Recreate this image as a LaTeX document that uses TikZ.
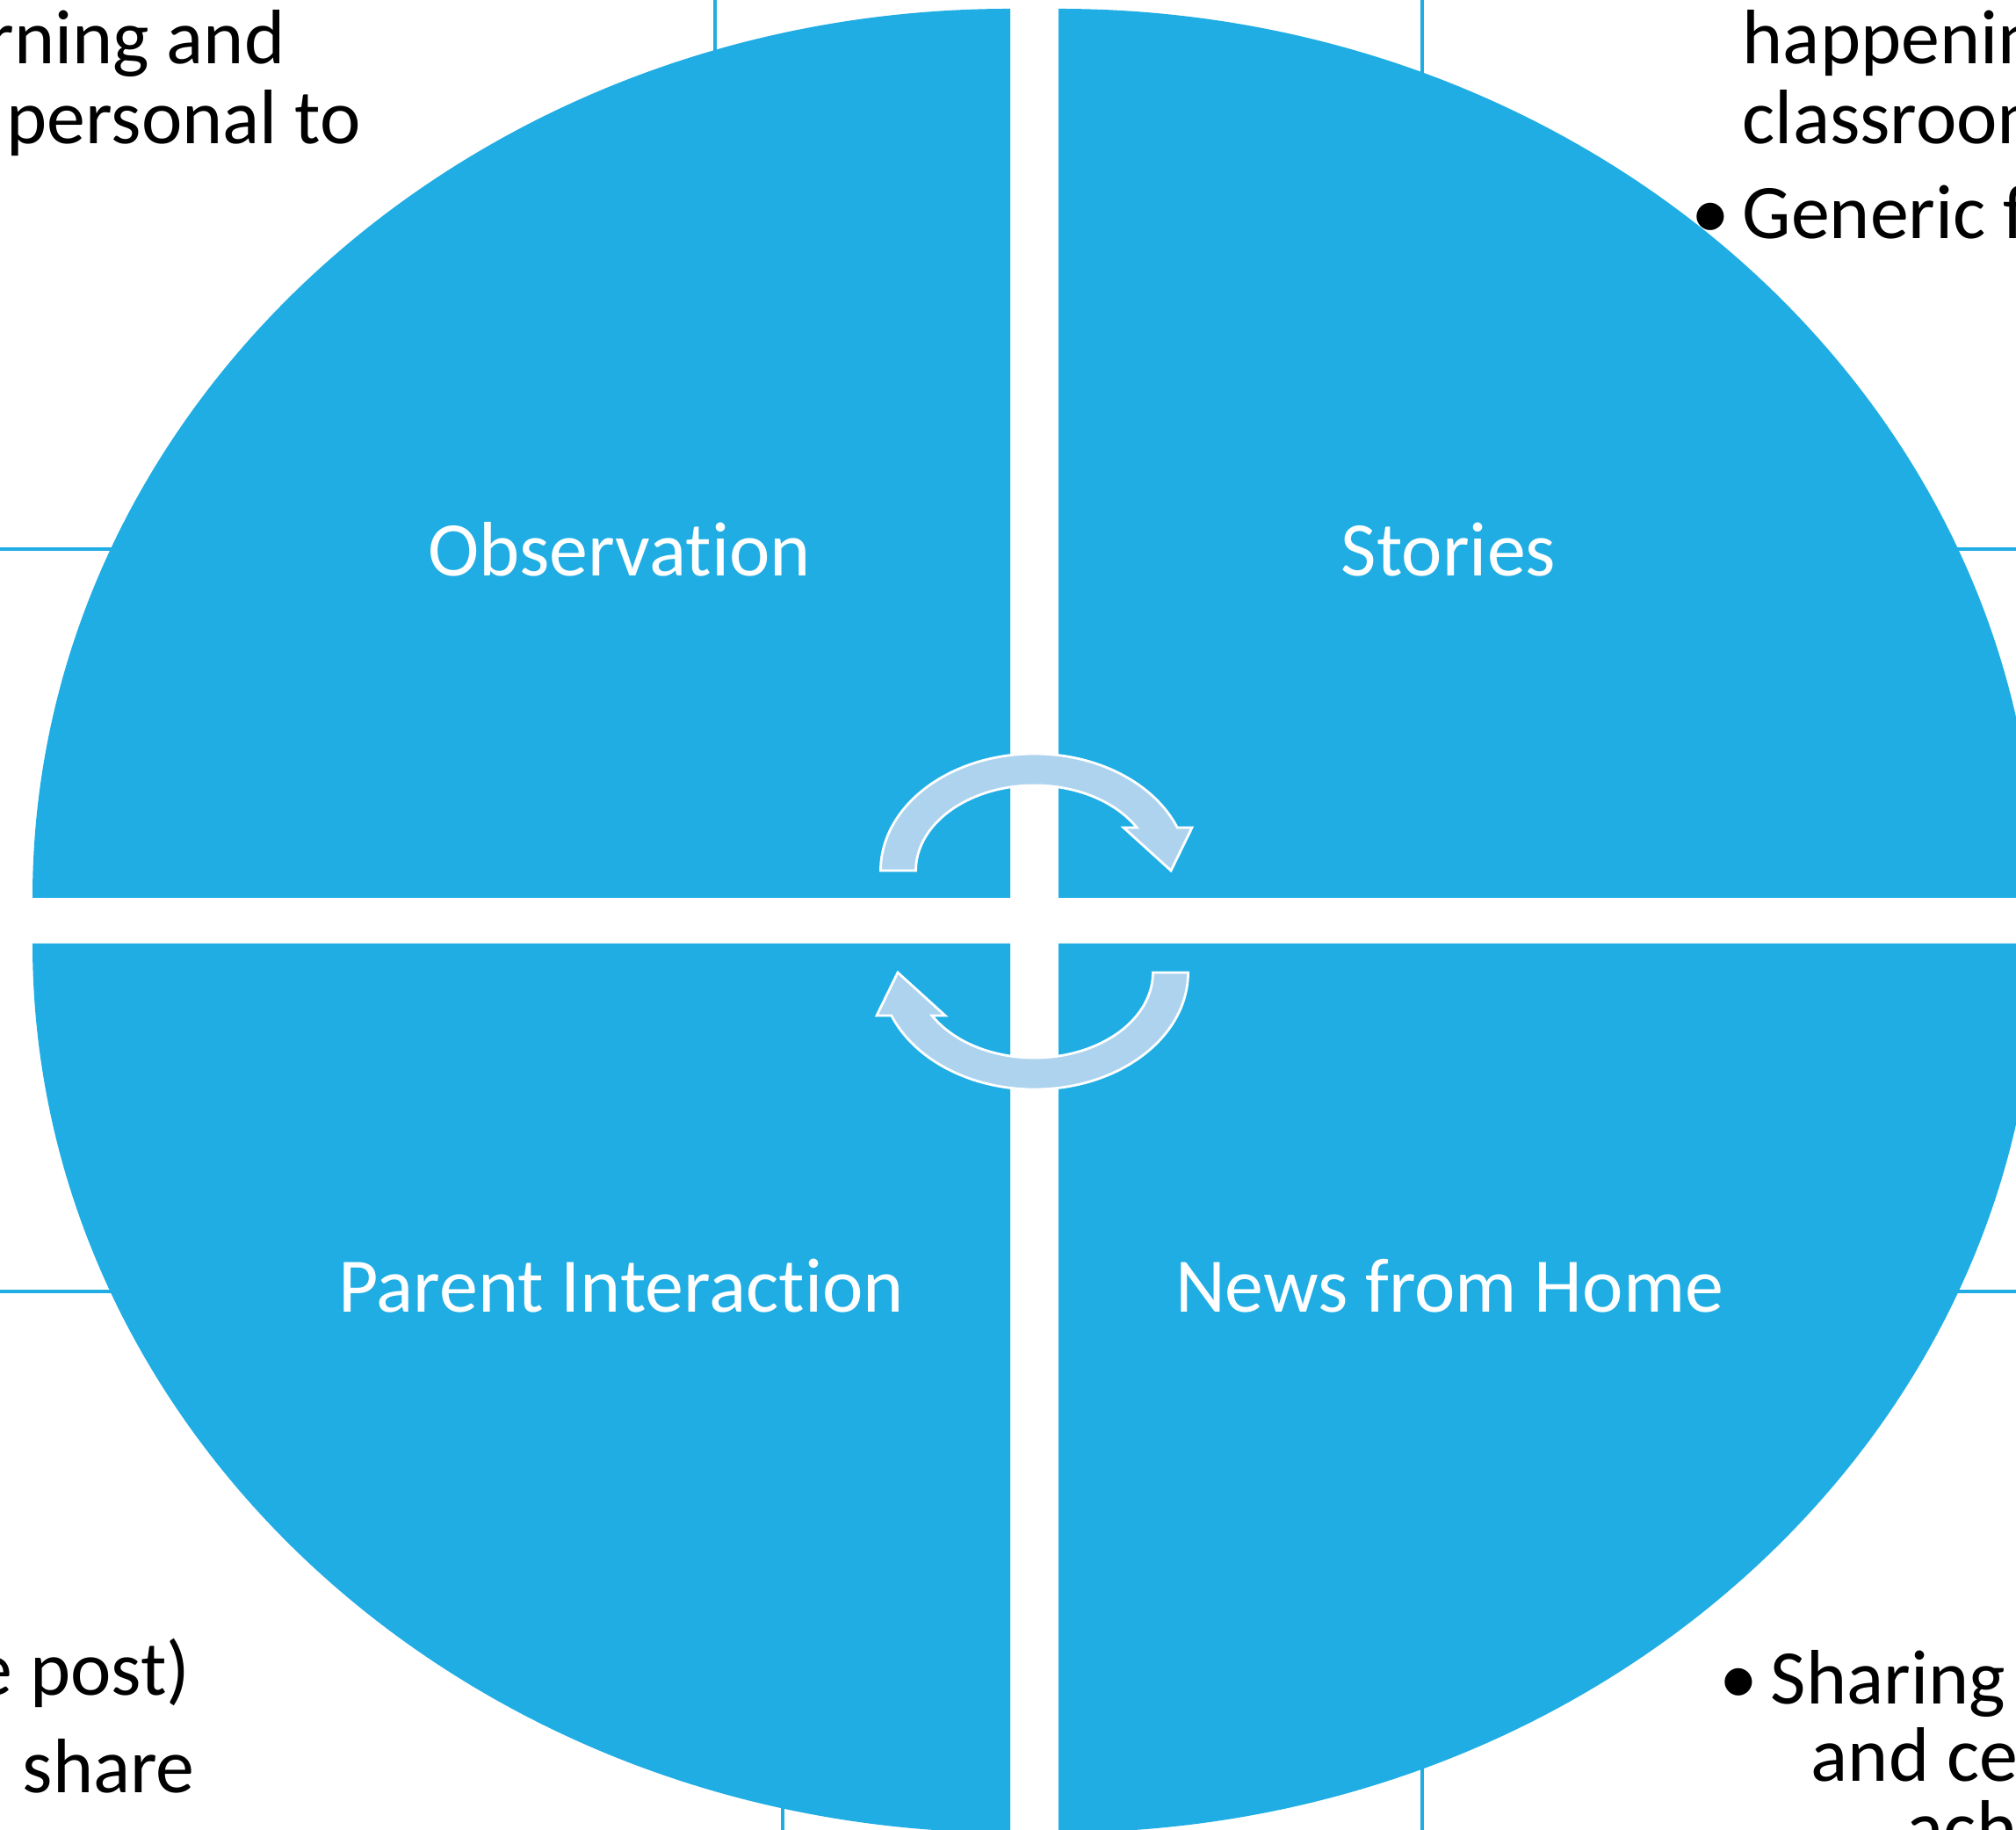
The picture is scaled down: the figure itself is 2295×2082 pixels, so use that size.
\documentclass[tikz,border=0pt]{standalone}
\usepackage{fontspec}
\setmainfont{Carlito}[Ligatures={NoCommon}]
\usetikzlibrary{positioning}
\definecolor{quadblue}{RGB}{31,173,228}
\definecolor{cycleblue}{RGB}{173,211,238}
\tikzset{
  quad/.style={fill=quadblue},
  boxline/.style={draw=quadblue, line width=1pt},
  cyclearrow/.style={fill=cycleblue, draw=white, line width=0.8pt},
  quadlabel/.style={text=white, font=\fontsize{25}{30}\selectfont, anchor=base},
  sidetext/.style={text=black, font=\fontsize{25}{30}\selectfont, inner sep=0pt}
}

\begin{document}
\begin{tikzpicture}[x=0.01cm, y=0.01cm]
            \useasboundingbox (0,0) rectangle (2295,2082);
            % text boxes behind the circle
            \draw[boxline] (-20,1457) rectangle (814,2110);
            \draw[boxline] (1619,1457) rectangle (2320,2110);
            \draw[boxline] (-20,612) rectangle (891,-20);
            \draw[boxline] (1619,612) rectangle (2320,-20);
            % four quarters
            \fill[quad] (1150,1060) -- (37,1060) arc[start angle=180, end angle=90, x radius=1113, y radius=1012] -- cycle;
            \fill[quad] (1205,1060) -- (1205,2072) arc[start angle=90, end angle=0, x radius=1113, y radius=1012] -- cycle;
            \fill[quad] (1150,1008) -- (1150,-4) arc[start angle=270, end angle=180, x radius=1113, y radius=1012] -- cycle;
            \fill[quad] (1205,1008) -- (2318,1008) arc[start angle=0, end angle=-90, x radius=1113, y radius=1012] -- cycle;
            % cycle arrows
            \foreach \r in {0,180}
                \draw[cyclearrow, shift={(1177.5,1033)}, rotate=\r] (-175,58)
                    arc[start angle=180, end angle=21.6, x radius=175, y radius=133]
                    -- (179.5,107) -- (155.5,58) -- (101.5,107) -- (116.6,107)
                    arc[start angle=30.3, end angle=180, x radius=135, y radius=97] -- cycle;
            \node[quadlabel] (obs) at (705,1426) {Observation};
            \node[quadlabel] (stories) at (1649,1426) {Stories};
            \node[quadlabel] (parent) at (707,588) {Parent Interaction};
            \node[quadlabel] (news) at (1650,588) {News from Home};
            % cut text round the edges
            \node[sidetext, anchor=base east] (tlone) at (325,2009) {rning and};
            \node[sidetext, anchor=base west] (tltwo) at (7,1918) {personal to};
            \node[sidetext, anchor=base west] (trone) at (1983,2009) {happening};
            \node[sidetext, anchor=base west] (trtwo) at (1983,1918) {classroom};
            \node[sidetext, anchor=base west] (trthree) at (1983,1810) {\llap{\textbullet\hspace{4pt}}Generic f};
            \node[sidetext, anchor=base east] (blone) at (217,153) {e post)};
            \node[sidetext, anchor=base west] (bltwo) at (25,42) {share};
            \node[sidetext, anchor=base west] (brone) at (2015,143) {\llap{\textbullet\hspace{4pt}}Sharing};
            \node[sidetext, anchor=base west] (brtwo) at (2061,55) {and ce};
            \node[sidetext, anchor=base west] (brthree) at (2170,-28) {ach};
        \end{tikzpicture}
\end{document}
